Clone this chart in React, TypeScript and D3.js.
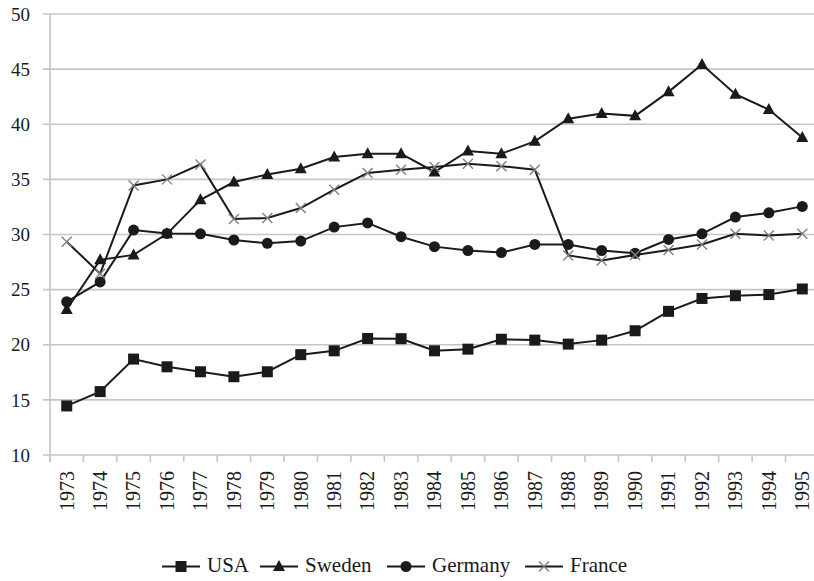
import * as d3 from 'd3';

const years = d3.range(1973, 1996).map(String);
const yTicks = [10, 15, 20, 25, 30, 35, 40, 45, 50];

const usa = [14.45, 15.75, 18.7, 18.0, 17.55, 17.1, 17.55, 19.1, 19.45, 20.57, 20.55, 19.45, 19.6, 20.5, 20.42, 20.06, 20.42, 21.27, 23.03, 24.2, 24.45, 24.55, 25.06];
const sweden = [23.2, 27.7, 28.15, 30.06, 33.15, 34.76, 35.45, 35.97, 37.03, 37.33, 37.33, 35.67, 37.58, 37.33, 38.45, 40.5, 40.97, 40.76, 42.94, 45.42, 42.73, 41.33, 38.79];
const germany = [23.9, 25.7, 30.4, 30.1, 30.06, 29.5, 29.2, 29.4, 30.67, 31.05, 29.8, 28.9, 28.55, 28.36, 29.1, 29.1, 28.55, 28.3, 29.55, 30.06, 31.58, 31.97, 32.55];
const france = [29.35, 26.45, 34.45, 35.0, 36.36, 31.4, 31.5, 32.4, 34.06, 35.58, 35.88, 36.12, 36.42, 36.2, 35.88, 28.1, 27.64, 28.15, 28.6, 29.1, 30.06, 29.9, 30.06];

type MarkerKind = 'square' | 'triangle' | 'circle' | 'cross';

const series: { name: string; values: number[]; marker: MarkerKind }[] = [
    { name: 'USA', values: usa, marker: 'square' },
    { name: 'Sweden', values: sweden, marker: 'triangle' },
    { name: 'Germany', values: germany, marker: 'circle' },
    { name: 'France', values: france, marker: 'cross' },
];

const W = 814;
const H = 581;
const plot = { left: 50, right: 819, top: 14, bottom: 455 };
const font = "'Liberation Serif', 'Times New Roman', 'DejaVu Serif', serif";
const ink = '#1a1a1a';
const gridColor = '#c6c6c6';

const Marker = ({ kind, x, y }: { kind: MarkerKind; x: number; y: number }) => {
    if (kind === 'square')
        return <rect x={x - 5.5} y={y - 5.5} width={11} height={11} fill={ink} />;
    if (kind === 'circle') return <circle cx={x} cy={y} r={5.5} fill={ink} />;
    if (kind === 'triangle')
        return (
            <path
                d={`M${x},${y - 6.5}L${x + 6},${y + 4.5}L${x - 6},${y + 4.5}Z`}
                fill={ink}
            />
        );
    return (
        <path
            d={`M${x - 5},${y - 5}L${x + 5},${y + 5}M${x - 5},${y + 5}L${x + 5},${y - 5}`}
            stroke="#808080"
            strokeWidth={1.4}
            fill="none"
        />
    );
};

const legendItems = [
    { name: 'USA', marker: 'square' as MarkerKind, x: 162 },
    { name: 'Sweden', marker: 'triangle' as MarkerKind, x: 260 },
    { name: 'Germany', marker: 'circle' as MarkerKind, x: 387 },
    { name: 'France', marker: 'cross' as MarkerKind, x: 525 },
];

export default function App() {
    const x = d3.scaleBand().domain(years).range([plot.left, plot.right]);
    const y = d3.scaleLinear().domain([10, 50]).range([plot.bottom, plot.top]);
    const cx = (yr: string) => (x(yr) ?? 0) + x.bandwidth() / 2;

    const line = d3
        .line<number>()
        .x((_d, i) => cx(years[i]))
        .y(d => y(d));

    const tickXs = years.map(yr => x(yr) ?? 0).concat([plot.right]);
    const textStyle = { fontFamily: font };

    return (
        <svg
            width={W}
            height={H}
            style={{ position: 'absolute', left: 0, top: 0, background: '#fff', fontFamily: font }}
        >
            {/* gridlines */}
            {yTicks.map(t => (
                <line
                    key={t}
                    x1={plot.left - 7}
                    x2={W}
                    y1={y(t)}
                    y2={y(t)}
                    stroke={gridColor}
                    strokeWidth={1.6}
                />
            ))}
            <line
                x1={plot.left}
                x2={plot.left}
                y1={plot.top}
                y2={plot.bottom + 7}
                stroke={gridColor}
                strokeWidth={1.6}
            />
            {tickXs.map((tx, i) => (
                <line
                    key={i}
                    x1={tx}
                    x2={tx}
                    y1={plot.bottom}
                    y2={plot.bottom + 7}
                    stroke={gridColor}
                    strokeWidth={1.6}
                />
            ))}

            {/* y labels */}
            {yTicks.map(t => (
                <text
                    key={t}
                    x={30}
                    y={y(t)}
                    dy="0.35em"
                    textAnchor="end"
                    fontSize={19}
                    fill={ink}
                    style={textStyle}
                >
                    {t}
                </text>
            ))}

            {/* x labels */}
            {years.map(yr => (
                <text
                    key={yr}
                    transform={`translate(${cx(yr)},${plot.bottom + 16}) rotate(-90)`}
                    dy="0.34em"
                    textAnchor="end"
                    fontSize={20}
                    fill={ink}
                    style={textStyle}
                >
                    {yr}
                </text>
            ))}

            {/* series */}
            {series.map(s => (
                <g key={s.name}>
                    <path d={line(s.values) ?? ''} fill="none" stroke={ink} strokeWidth={2} />
                    {s.values.map((v, i) => (
                        <Marker key={i} kind={s.marker} x={cx(years[i])} y={y(v)} />
                    ))}
                </g>
            ))}

            {/* legend */}
            {legendItems.map(item => (
                <g key={item.name}>
                    <line
                        x1={item.x}
                        x2={item.x + 38}
                        y1={566.5}
                        y2={566.5}
                        stroke={ink}
                        strokeWidth={2}
                    />
                    <Marker kind={item.marker} x={item.x + 19} y={566.5} />
                    <text x={item.x + 45} y={572} fontSize={21} fill={ink} style={textStyle}>
                        {item.name}
                    </text>
                </g>
            ))}
        </svg>
    );
}
